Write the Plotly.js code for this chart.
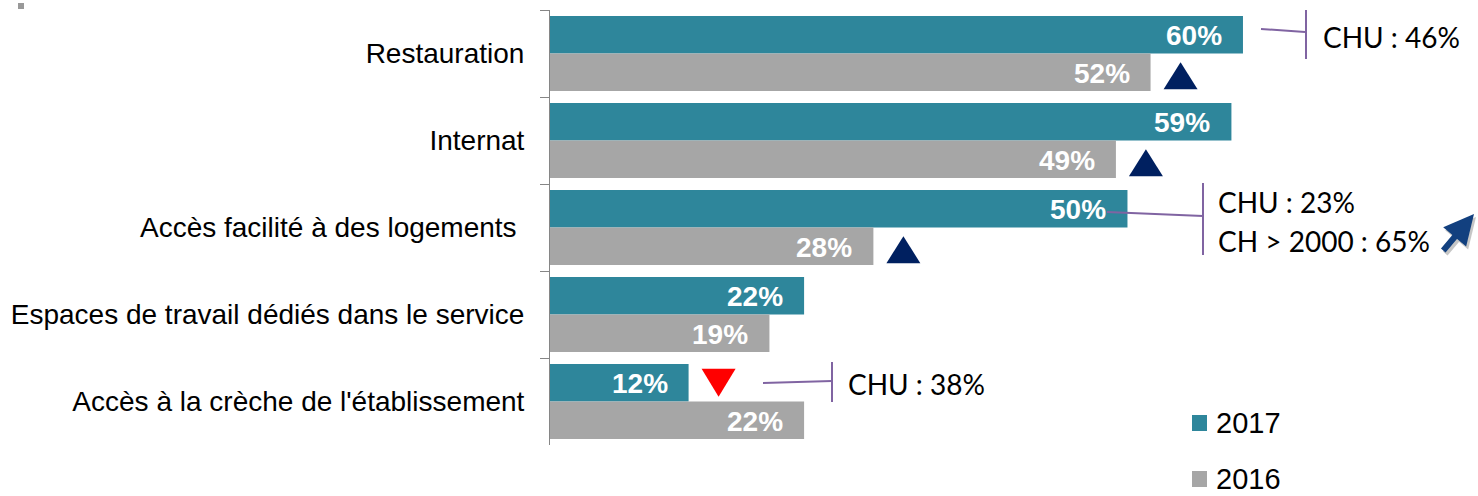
<!DOCTYPE html>
<html>
<head>
<meta charset="utf-8">
<script src="https://cdn.plot.ly/plotly-3.0.1.min.js"></script>
<style>
  html, body { margin: 0; padding: 0; background: #ffffff; }
  #chart { width: 1478px; height: 496px; }
</style>
</head>
<body>
<div id="chart"></div>
<script>
// Avantages proposés : comparaison 2017 / 2016
const categories = [
  'Restauration',
  'Internat',
  'Accès facilité à des logements\u00a0',
  'Espaces de travail dédiés dans le service',
  "Accès à la crèche de l'établissement"
];
const values2017 = [60, 59, 50, 22, 12];
const values2016 = [52, 49, 28, 19, 22];
const seriesNames = ['2017', '2016'];
// Évolution signalée par une flèche : 'up', 'down' ou null
const trends = ['up', 'up', 'up', null, 'down'];
// Comparaisons par type d'établissement
const calloutRestauration = ['CHU : 46%'];
const calloutLogements = ['CHU : 23%', 'CH > 2000 : 65%'];
const calloutCreche = ['CHU : 38%'];

const COLORS = {
  teal: '#2E869B',
  gray: '#A6A6A6',
  axis: '#868686',
  navy: '#002060',
  red: '#FF0000',
  purple: '#8064A2',
  arrow: '#12407F'
};

const W = 1478, H = 496;
const M = { l: 550, r: 0, t: 10, b: 51 };
const plotW = W - M.l - M.r;
const plotH = H - M.t - M.b;
const X_MAX = 80.35;
const BARGAP = 0.138;
const xUnit = plotW / X_MAX;              // pixels per percent
const yUnit = plotH / categories.length;  // pixels per category
const halfBar = (1 - BARGAP) / 4;         // centre offset of each bar in a group

// page pixel -> paper coordinates
const px = x => (x - M.l) / plotW;
const py = y => (H - M.b - y) / plotH;

const FONT_BAR = 'Arial, "Liberation Sans", sans-serif';
const FONT_NOTE = 'Lato, "Open Sans", sans-serif';

const traces = [
  {
    type: 'bar', orientation: 'h', name: seriesNames[0],
    y: categories, x: values2017,
    marker: { color: COLORS.teal },
    hoverinfo: 'skip'
  },
  {
    type: 'bar', orientation: 'h', name: seriesNames[1],
    y: categories, x: values2016,
    marker: { color: COLORS.gray },
    hoverinfo: 'skip'
  }
];

const annotations = [];
const shapes = [];

// value labels at the inner end of each bar
[values2017, values2016].forEach((vals, s) => {
  vals.forEach((v, i) => {
    annotations.push({
      xref: 'x', yref: 'y',
      x: v, y: i + (s === 0 ? -halfBar : halfBar),
      text: v + '%', showarrow: false,
      xanchor: 'right', yanchor: 'middle', xshift: -19, yshift: -1,
      font: { family: FONT_BAR, size: 28, color: '#ffffff', weight: 'bold' }
    });
  });
});

// trend triangles next to the shorter bar of each group
trends.forEach((t, i) => {
  if (!t) return;
  const use2017 = values2017[i] <= values2016[i];
  const v = use2017 ? values2017[i] : values2016[i];
  const rc = i + (use2017 ? -halfBar : halfBar);
  const left = v + 13 / xUnit, right = v + 47 / xUnit, mid = v + 30 / xUnit;
  let path, color;
  if (t === 'up') {
    const apex = rc - 10 / yUnit, base = rc + 17 / yUnit;
    path = `M ${left},${base} L ${right},${base} L ${mid},${apex} Z`;
    color = COLORS.navy;
  } else {
    const top = rc - 14 / yUnit, apex = rc + 14 / yUnit;
    path = `M ${left},${top} L ${right},${top} L ${mid},${apex} Z`;
    color = COLORS.red;
  }
  shapes.push({ type: 'path', xref: 'x', yref: 'y', path, fillcolor: color, line: { width: 0 }, layer: 'above' });
});

// callout brackets
function seg(x0, y0, x1, y1, color, width) {
  shapes.push({
    type: 'line', xref: 'paper', yref: 'paper',
    x0: px(x0), y0: py(y0), x1: px(x1), y1: py(y1),
    line: { color, width }
  });
}
seg(1261, 29, 1305, 32, COLORS.purple, 2);
seg(1306, 10, 1306, 59, COLORS.purple, 2);
seg(1107, 212, 1203, 216, COLORS.purple, 2);
seg(1203, 183, 1203, 255, COLORS.purple, 2);
seg(763, 383, 832, 381, COLORS.purple, 2);
seg(832, 362, 832, 402, COLORS.purple, 2);

function note(text, x, y) {
  annotations.push({
    xref: 'paper', yref: 'paper', x: px(x), y: py(y),
    text, showarrow: false, xanchor: 'left', yanchor: 'middle',
    font: { family: FONT_NOTE, size: 28, color: '#000000' }
  });
}
note(calloutRestauration[0], 1321, 37);
note(calloutLogements[0], 1216, 202);
note(calloutLogements[1], 1216, 241);
note(calloutCreche[0], 846, 384);

// rising arrow beside the housing comparison (with soft shadow)
[
  { color: 'rgba(0,0,0,0.22)', dx: 2, dy: -3 },
  { color: COLORS.arrow, dx: 0, dy: 0 }
].forEach(a => {
  annotations.push({
    xref: 'paper', yref: 'paper', x: px(1474), y: py(214),
    ax: -32, ay: 38, text: '', showarrow: true,
    arrowhead: 2, arrowsize: 1.0, arrowwidth: 6, arrowcolor: a.color,
    standoff: 0, xshift: a.dx, yshift: a.dy
  });
});

// legend
[[seriesNames[0], COLORS.teal, 423], [seriesNames[1], COLORS.gray, 479]].forEach(([name, color, yc]) => {
  shapes.push({
    type: 'rect', xref: 'paper', yref: 'paper',
    x0: px(1192), x1: px(1207), y0: py(yc - 8), y1: py(yc + 8),
    fillcolor: color, line: { width: 0 }
  });
  annotations.push({
    xref: 'paper', yref: 'paper', x: px(1214), y: py(yc),
    text: name, showarrow: false, xanchor: 'left', yanchor: 'middle',
    font: { family: FONT_BAR, size: 29, color: '#000000' }
  });
});

// small marker at the top left corner
shapes.push({
  type: 'rect', xref: 'paper', yref: 'paper',
  x0: px(18), x1: px(24), y0: py(9), y1: py(3),
  fillcolor: '#999999', line: { width: 0 }
});

const layout = {
  width: W, height: H,
  margin: M,
  paper_bgcolor: '#ffffff', plot_bgcolor: 'rgba(0,0,0,0)',
  barmode: 'group', bargap: BARGAP, bargroupgap: 0,
  showlegend: false,
  xaxis: {
    range: [0, X_MAX], showgrid: false, zeroline: false,
    showticklabels: false, showline: false, ticks: '', fixedrange: true
  },
  yaxis: {
    type: 'category', autorange: 'reversed',
    showgrid: false, zeroline: false,
    showline: true, linecolor: COLORS.axis, linewidth: 1,
    ticks: 'outside', tickson: 'boundaries', ticklen: 9, tickcolor: COLORS.axis, tickwidth: 1,
    ticklabelstandoff: 19,
    tickfont: { family: FONT_BAR, size: 28, color: '#000000' },
    fixedrange: true
  },
  shapes, annotations
};

Plotly.newPlot('chart', traces, layout, { displayModeBar: false, staticPlot: true });
</script>
</body>
</html>
